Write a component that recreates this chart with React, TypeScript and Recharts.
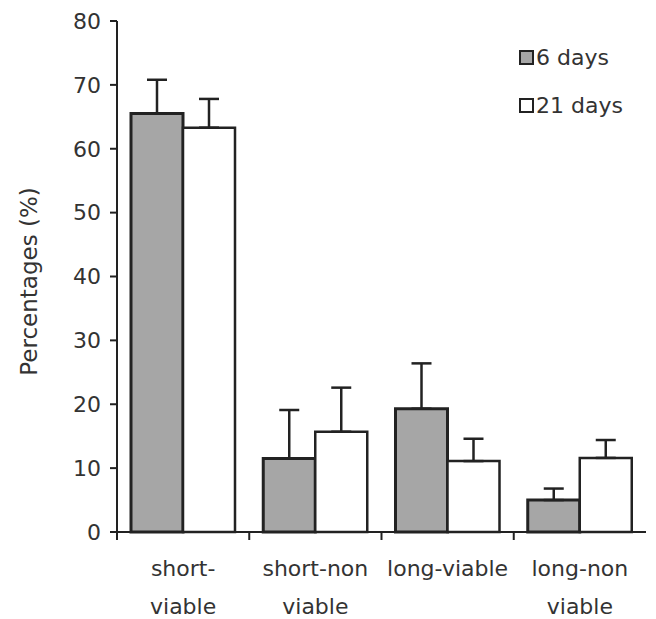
import { BarChart, Bar, XAxis, YAxis, ErrorBar, Legend, Label } from 'recharts';

const categories = ['short-viable', 'short-non viable', 'long-viable', 'long-non viable'];
const categoryLines = [['short-', 'viable'], ['short-non', 'viable'], ['long-viable'], ['long-non', 'viable']];
const sixDays = [65.5, 11.5, 19.3, 5.0];
const sixDaysErr = [5.3, 7.6, 7.1, 1.8];
const twentyOneDays = [63.3, 15.7, 11.1, 11.6];
const twentyOneDaysErr = [4.5, 6.9, 3.5, 2.8];
const yTicks = [0, 10, 20, 30, 40, 50, 60, 70, 80];
const seriesNames = ['6 days', '21 days'];
const seriesFills = ['#a6a6a6', '#ffffff'];

const data = categories.map((name, i) => ({
  name,
  six: sixDays[i],
  sixErr: [0, sixDaysErr[i]],
  twentyOne: twentyOneDays[i],
  twentyOneErr: [0, twentyOneDaysErr[i]],
}));

const W = 656;
const H = 619;
const margin = { top: 21, right: 10, bottom: 0, left: 0 };
const yAxisWidth = 117;
const xAxisHeight = 87;
const font = '"DejaVu Sans", sans-serif';
const ink = '#222';
const textInk = '#333';
const bandHalf = (W - yAxisWidth - margin.right) / categories.length / 2;

const CategoryTick = (props: any) => {
  const { x, y, payload, index } = props;
  const half = payload && payload.offset > 0 ? payload.offset : bandHalf;
  const lines = categoryLines[index ?? payload.index] || [payload.value];
  return (
    <g>
      <line x1={x - half} x2={x - half} y1={y} y2={y + 8} stroke={ink} strokeWidth={2} />
      {lines.map((l, i) => (
        <text key={i} x={x} y={y + 44 + i * 38} textAnchor="middle" fontFamily={font} fontSize={22} fill={textInk}>
          {l}
        </text>
      ))}
    </g>
  );
};

const LegendBox = () => (
  <div style={{ fontFamily: font, fontSize: 22, color: textInk }}>
    {seriesNames.map((n, i) => (
      <div key={n} style={{ display: 'flex', alignItems: 'center', height: 48 }}>
        <span
          style={{
            display: 'inline-block',
            width: 11,
            height: 11,
            background: seriesFills[i],
            border: `2px solid ${ink}`,
            marginRight: 2,
          }}
        />
        <span>{n}</span>
      </div>
    ))}
  </div>
);

const YTitle = (props: any) => {
  const vb = props.viewBox || { x: 0, y: margin.top, width: yAxisWidth, height: 511 };
  const cx = vb.x + 29;
  const cy = vb.y + vb.height / 2 + 5;
  return (
    <text
      transform={`translate(${cx},${cy}) rotate(-90)`}
      textAnchor="middle"
      dominantBaseline="central"
      fontFamily={font}
      fontSize={23}
      fill={textInk}
    >
      Percentages (%)
    </text>
  );
};

export default function App() {
  return (
    <div style={{ position: 'absolute', left: 0, top: 0, width: W, height: H, background: '#fff' }}>
      <BarChart width={W} height={H} data={data} margin={margin} barGap={0} barSize={52}>
        <XAxis
          dataKey="name"
          height={xAxisHeight}
          interval={0}
          tickSize={0}
          tickMargin={0}
          tickLine={false}
          axisLine={{ stroke: ink, strokeWidth: 2 }}
          tick={<CategoryTick />}
        />
        <XAxis xAxisId="top" orientation="top" dataKey="name" height={0} tick={false} tickLine={false} axisLine={{ stroke: ink, strokeWidth: 2 }} />
        <YAxis
          domain={[0, 80]}
          ticks={yTicks}
          width={yAxisWidth}
          tickSize={7}
          tickMargin={9}
          axisLine={{ stroke: ink, strokeWidth: 2 }}
          tickLine={{ stroke: ink, strokeWidth: 2 }}
          tick={{ fontFamily: font, fontSize: 22, fill: textInk }}
        >
          <Label content={<YTitle />} />
        </YAxis>
        <YAxis yAxisId="right" orientation="right" width={0} domain={[0, 80]} tick={false} tickLine={false} axisLine={{ stroke: ink, strokeWidth: 2 }} />
        <Legend
          layout="vertical"
          align="center"
          verticalAlign="middle"
          content={<LegendBox />}
          wrapperStyle={{ left: 519, top: 33, width: 'auto' }}
        />
        <Bar dataKey="six" name={seriesNames[0]} fill={seriesFills[0]} stroke={ink} strokeWidth={3} isAnimationActive={false}>
          <ErrorBar dataKey="sixErr" width={10} stroke={ink} strokeWidth={2.5} direction="y" isAnimationActive={false} />
        </Bar>
        <Bar dataKey="twentyOne" name={seriesNames[1]} fill={seriesFills[1]} stroke={ink} strokeWidth={2.5} isAnimationActive={false}>
          <ErrorBar dataKey="twentyOneErr" width={10} stroke={ink} strokeWidth={2.5} direction="y" isAnimationActive={false} />
        </Bar>
      </BarChart>
    </div>
  );
}
